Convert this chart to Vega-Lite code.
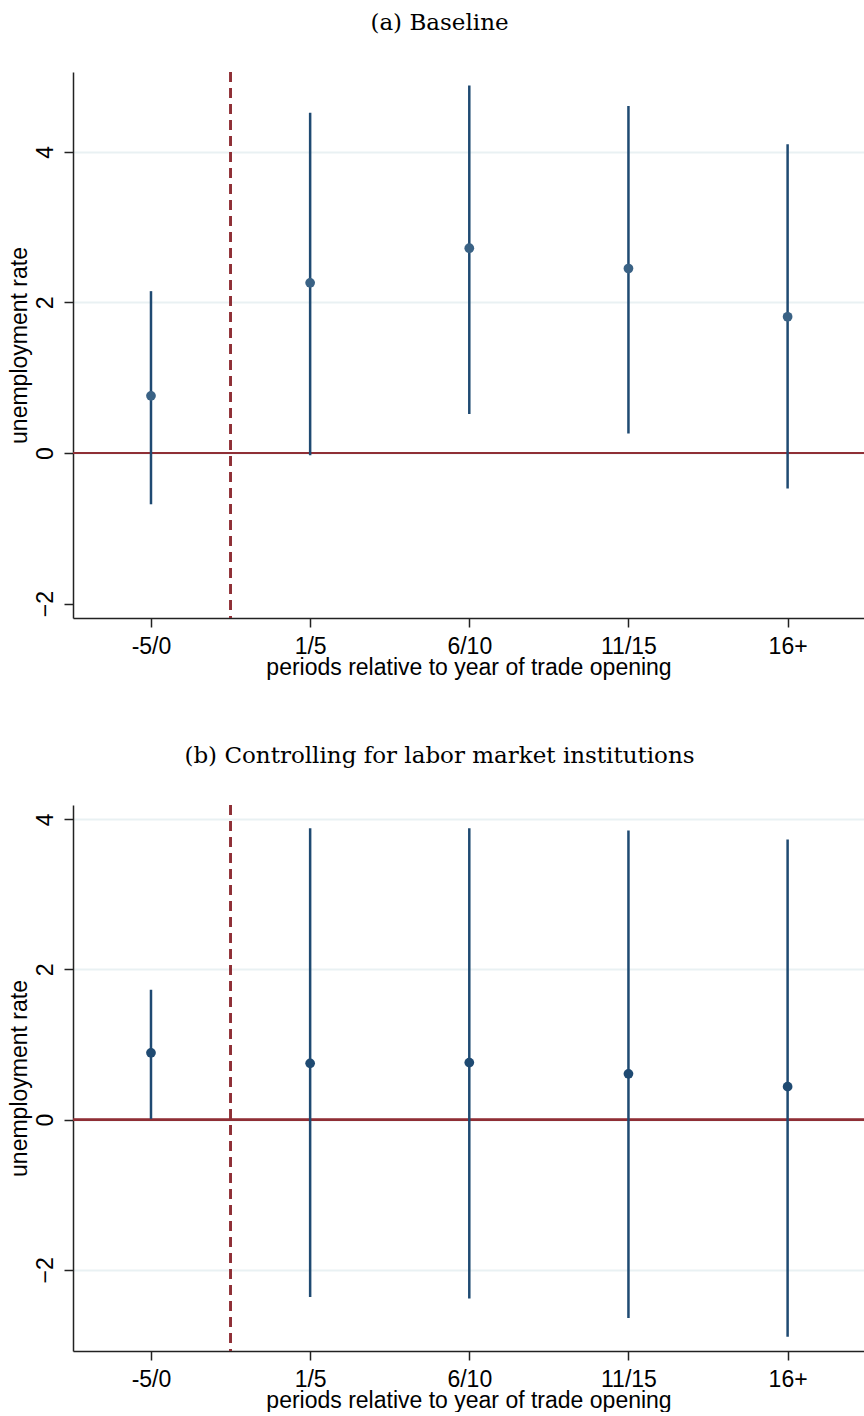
{
  "$schema": "https://vega.github.io/schema/vega-lite/v6.json",
  "padding": {"left": 8, "top": 12, "right": 0, "bottom": 0},
  "background": "white",
  "spacing": 66,
  "data": {"values": [
    {"panel": "a", "period": "-5/0", "pos": 0, "est": 0.76, "lo": -0.68, "hi": 2.15},
    {"panel": "a", "period": "1/5", "pos": 1, "est": 2.26, "lo": -0.03, "hi": 4.52},
    {"panel": "a", "period": "6/10", "pos": 2, "est": 2.72, "lo": 0.52, "hi": 4.88},
    {"panel": "a", "period": "11/15", "pos": 3, "est": 2.45, "lo": 0.26, "hi": 4.61},
    {"panel": "a", "period": "16+", "pos": 4, "est": 1.81, "lo": -0.47, "hi": 4.10},
    {"panel": "b", "period": "-5/0", "pos": 0, "est": 0.89, "lo": 0.01, "hi": 1.73},
    {"panel": "b", "period": "1/5", "pos": 1, "est": 0.75, "lo": -2.36, "hi": 3.88},
    {"panel": "b", "period": "6/10", "pos": 2, "est": 0.76, "lo": -2.38, "hi": 3.88},
    {"panel": "b", "period": "11/15", "pos": 3, "est": 0.61, "lo": -2.64, "hi": 3.85},
    {"panel": "b", "period": "16+", "pos": 4, "est": 0.44, "lo": -2.89, "hi": 3.73}
  ]},
  "config": {
    "view": {"stroke": null},
    "title": {"font": "DejaVu Serif", "fontSize": 23, "fontWeight": "normal", "color": "#000", "anchor": "middle", "frame": "group", "offset": 36, "dx": -29},
    "axis": {
      "labelFont": "Liberation Sans", "labelFontSize": 23, "labelColor": "#000",
      "titleFont": "Liberation Sans", "titleFontSize": 23, "titleFontWeight": "normal", "titleColor": "#000",
      "domainColor": "#222", "domainWidth": 1.5, "tickColor": "#222", "tickWidth": 1.5, "tickSize": 9
    }
  },
  "vconcat": [
    {
      "title": "(a) Baseline",
      "width": 791, "height": 546,
      "transform": [{"filter": "datum.panel == 'a'"}],
      "layer": [
        {"mark": {"type": "rule", "color": "#8f2f35", "strokeWidth": 2},
         "encoding": {"y": {"datum": 0, "type": "quantitative",
           "scale": {"domain": [-2.19, 5.06], "nice": false, "zero": false},
           "axis": {"values": [-2, 0, 2, 4], "format": "d", "labelAngle": -90, "labelAlign": "center", "labelBaseline": "bottom", "labelPadding": 7, "titlePadding": 3,
             "grid": true, "gridColor": "#e9f1f3", "gridWidth": 2,
             "gridOpacity": {"condition": {"test": "datum.value == -2", "value": 0}, "value": 1},
             "title": "unemployment rate"}}}},
        {"mark": {"type": "rule", "color": "#8f2f35", "strokeWidth": 2, "strokeDash": [10, 6]},
         "encoding": {"x": {"datum": 0.5, "type": "quantitative"}}},
        {"mark": {"type": "rule", "color": "#1f4a72", "strokeWidth": 2.5},
         "encoding": {
           "x": {"field": "pos", "type": "quantitative",
             "scale": {"domain": [-0.49, 4.48], "nice": false, "zero": false},
             "axis": {"values": [0, 1, 2, 3, 4], "grid": false, "labelPadding": 8, "titlePadding": -2,
               "labelExpr": "['-5/0','1/5','6/10','11/15','16+'][datum.value]",
               "title": "periods relative to year of trade opening"}},
           "y": {"field": "lo", "type": "quantitative"}, "y2": {"field": "hi"}}},
        {"mark": {"type": "point", "filled": true, "opacity": 1, "color": "#3a6285", "size": 95, "shape": "circle"},
         "encoding": {"x": {"field": "pos", "type": "quantitative"}, "y": {"field": "est", "type": "quantitative"}}}
      ]
    },
    {
      "title": "(b) Controlling for labor market institutions",
      "width": 791, "height": 546,
      "transform": [{"filter": "datum.panel == 'b'"}],
      "layer": [
        {"mark": {"type": "rule", "color": "#8f2f35", "strokeWidth": 2},
         "encoding": {"y": {"datum": 0, "type": "quantitative",
           "scale": {"domain": [-3.08, 4.19], "nice": false, "zero": false},
           "axis": {"values": [-2, 0, 2, 4], "format": "d", "labelAngle": -90, "labelAlign": "center", "labelBaseline": "bottom", "labelPadding": 7, "titlePadding": 3,
             "grid": true, "gridColor": "#e9f1f3", "gridWidth": 2,
             "title": "unemployment rate"}}}},
        {"mark": {"type": "rule", "color": "#8f2f35", "strokeWidth": 2, "strokeDash": [10, 6]},
         "encoding": {"x": {"datum": 0.5, "type": "quantitative"}}},
        {"mark": {"type": "rule", "color": "#1f4a72", "strokeWidth": 2.5},
         "encoding": {
           "x": {"field": "pos", "type": "quantitative",
             "scale": {"domain": [-0.49, 4.48], "nice": false, "zero": false},
             "axis": {"values": [0, 1, 2, 3, 4], "grid": false, "labelPadding": 8, "titlePadding": -2,
               "labelExpr": "['-5/0','1/5','6/10','11/15','16+'][datum.value]",
               "title": "periods relative to year of trade opening"}},
           "y": {"field": "lo", "type": "quantitative"}, "y2": {"field": "hi"}}},
        {"mark": {"type": "point", "filled": true, "opacity": 1, "color": "#1f4a72", "size": 95, "shape": "circle"},
         "encoding": {"x": {"field": "pos", "type": "quantitative"}, "y": {"field": "est", "type": "quantitative"}}}
      ]
    }
  ]
}
